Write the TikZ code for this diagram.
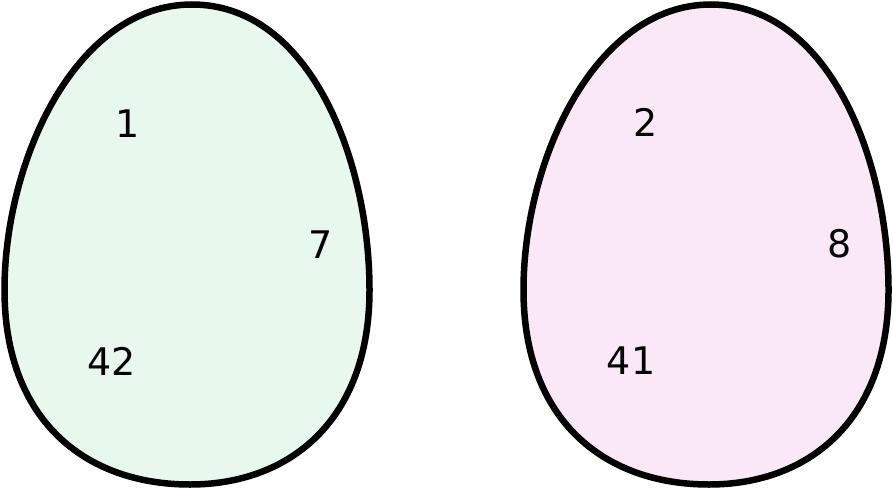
\documentclass[tikz,border=0pt]{standalone}
\usepackage{fontspec}
\setmainfont{DejaVu Sans}
\definecolor{eggA}{RGB}{232,248,236}
\definecolor{eggB}{RGB}{250,232,246}
\tikzset{
  egg/.style={draw=black, line width=6.5pt, line join=round},
  lbl/.style={inner sep=0pt, font=\fontsize{38}{40}\selectfont}
}
\begin{document}
\begin{tikzpicture}[x=1pt,y=-1pt]
\useasboundingbox (0,0) rectangle (893,489);
\foreach \dx/\col in {0/eggA,519/eggB}{
  \begin{scope}[xshift=\dx]
  \draw[egg, fill=\col] (192,4.5) .. controls (310,4.5) and (369.5,160) .. (369.5,290)
    .. controls (369.5,420) and (290,484.5) .. (190,484.5)
    .. controls (85,484.5) and (4.5,420) .. (4.5,290)
    .. controls (4.5,160) and (76,4.5) .. (192,4.5) -- cycle;
  \end{scope}
}
\node[lbl] (n1) at (128,124) {1};
\node[lbl] (n7) at (321,245) {7};
\node[lbl] (n42) at (112,361) {42};
\node[lbl] (n2) at (646,122) {2};
\node[lbl] (n8) at (840,244) {8};
\node[lbl] (n41) at (631,361) {41};
\end{tikzpicture}
\end{document}
